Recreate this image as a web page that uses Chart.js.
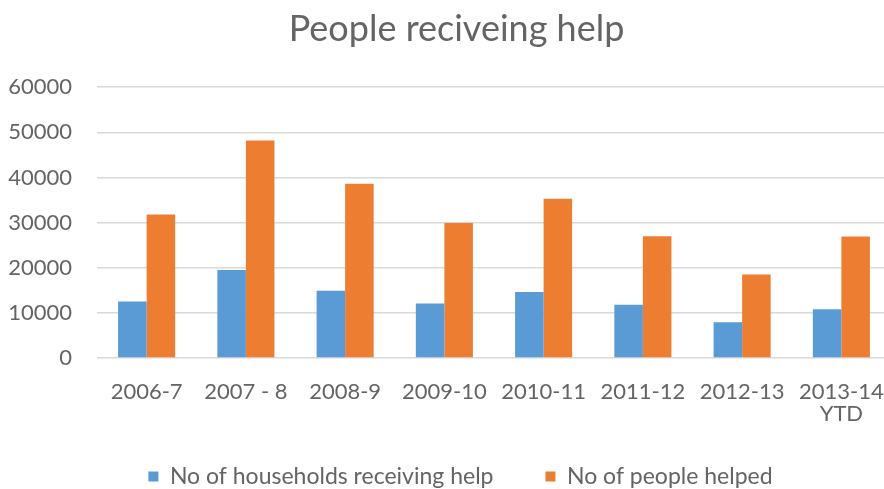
<!DOCTYPE html>
<html>
<head>
<meta charset="utf-8">
<script src="https://cdn.jsdelivr.net/npm/chart.js@4/dist/chart.umd.min.js"></script>
<style>
  html, body { margin: 0; padding: 0; background: #fff; overflow: hidden; }
  #wrap { width: 914px; height: 489px; }
</style>
</head>
<body>
<div id="wrap"><canvas id="chart"></canvas></div>
<script>
let categorias = ["2006-7", "2007 - 8", "2008-9", "2009-10", "2010-11", "2011-12", "2012-13", ["2013-14", "YTD"]]
let households = [12500, 19500, 14900, 12100, 14600, 11800, 7900, 10800]
let peopleHelped = [31800, 48200, 38600, 29900, 35300, 27000, 18500, 26900]
let yTicks = [0, 10000, 20000, 30000, 40000, 50000, 60000]

const corTexto = "#646464";
const fonte = "Lato";

// legend: small box in the layout, then stretched up/moved right so the wide item gap fits
const ajusteLegenda = {
  id: "ajusteLegenda",
  beforeInit(chart) {
    let fitOriginal = chart.legend.fit;
    chart.legend.fit = function () {
      fitOriginal.bind(chart.legend)();
      this.height = 30;
    };
  },
  afterLayout(chart) {
    let leg = chart.legend;
    leg.top -= 46;
    leg.left += 15;
    leg.right += 15;
    let tit = chart.titleBlock;
    tit.left += 11;
    tit.right += 11;
  },
};

new Chart(document.getElementById("chart"), {
  type: "bar",
  data: {
    labels: categorias,
    datasets: [
      {
        label: "No of households receiving help",
        data: households,
        backgroundColor: "#5B9BD5",
      },
      {
        label: "No of people helped",
        data: peopleHelped,
        backgroundColor: "#ED7D31",
      },
    ],
  },
  options: {
    responsive: true,
    maintainAspectRatio: false,
    animation: false,
    datasets: {
      bar: { categoryPercentage: 0.575, barPercentage: 1 },
    },
    layout: { padding: { left: 0, right: 23, top: 0, bottom: 0 } },
    plugins: {
      title: {
        display: true,
        text: "People reciveing help",
        color: corTexto,
        font: { family: fonte, size: 36, weight: "normal" },
        padding: { top: 8, bottom: 36 },
      },
      legend: {
        position: "bottom",
        labels: {
          color: corTexto,
          font: { family: fonte, size: 23 },
          boxWidth: 10,
          boxHeight: 10,
          padding: 52,
        },
      },
      tooltip: { enabled: false },
    },
    scales: {
      x: {
        afterFit(axis) {
          axis.height = 101;
        },
        grid: { display: false },
        border: { display: false },
        ticks: {
          color: corTexto,
          font: { family: fonte, size: 22, lineHeight: 1.0 },
          padding: 15,
          maxRotation: 0,
          autoSkip: false,
        },
      },
      y: {
        min: 0,
        max: 60000,
        afterBuildTicks(axis) {
          axis.ticks = yTicks.map((v) => ({ value: v }));
        },
        afterFit(axis) {
          axis.width = 97;
        },
        grid: { color: "#D9D9D9", lineWidth: 1.5, drawTicks: false },
        border: { display: false },
        ticks: {
          color: corTexto,
          font: { family: fonte, size: 22 },
          padding: 25,
          callback: (valor) => String(valor),
        },
      },
    },
  },
  plugins: [ajusteLegenda],
});
</script>
</body>
</html>
